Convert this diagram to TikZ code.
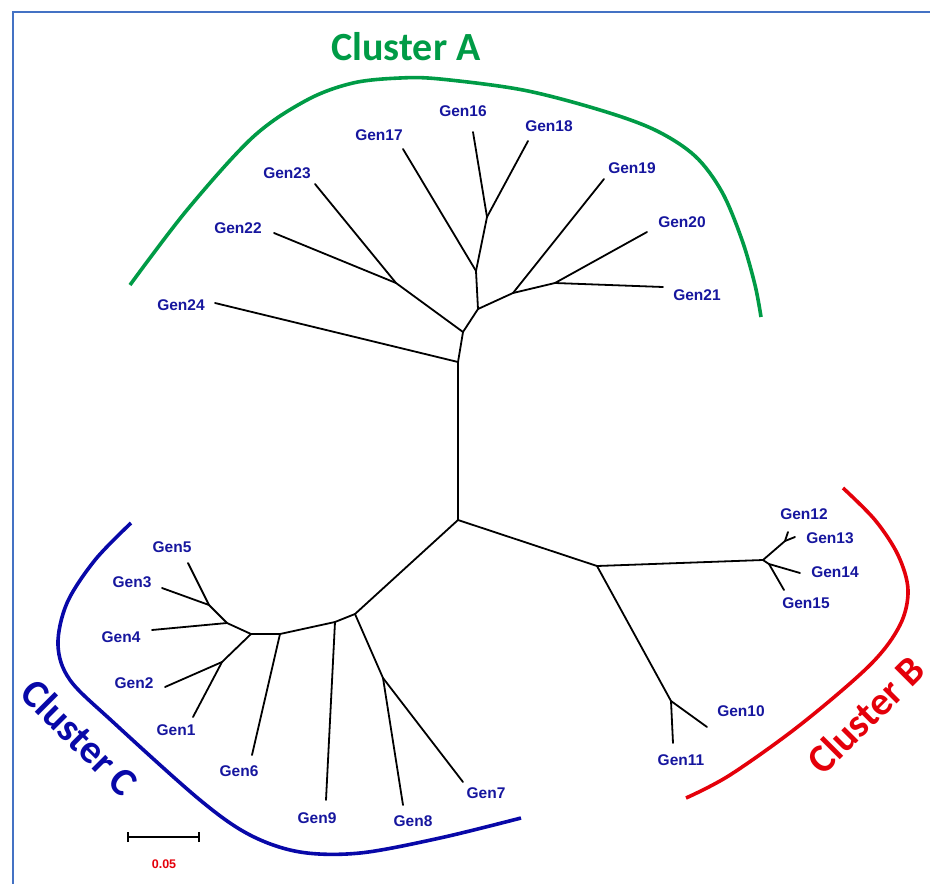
\documentclass[tikz,border=0pt]{standalone}
\usepackage{fontspec}
\setmainfont{Liberation Sans}
\newfontfamily\clfont{Carlito}
\definecolor{genblue}{RGB}{22,22,158}
\definecolor{clgreen}{RGB}{0,155,70}
\definecolor{clred}{RGB}{228,0,10}
\definecolor{clblue}{RGB}{8,8,168}
\definecolor{frameblue}{RGB}{68,114,196}
\begin{document}
\begin{tikzpicture}[x=1pt,y=-1pt,
  branch/.style={line width=1.8pt, line cap=round, line join=round, black},
  gen/.style={text=genblue, font=\bfseries\fontsize{15.5}{17}\selectfont, inner sep=0pt},
  clustertext/.style={font=\clfont\bfseries\fontsize{40}{44}\selectfont, inner sep=0pt},
  arcline/.style={line width=3.6pt, line cap=butt}]
\useasboundingbox (0,0) rectangle (930,884);
% frame
\draw[frameblue, line width=2.5pt] (13,884) -- (13,12) -- (930,12);

% ---------- internal nodes ----------
\coordinate (R) at (458,520);
\coordinate (A0) at (458,362);
\coordinate (A1) at (463,332);
\coordinate (A2) at (396,283);
\coordinate (A3) at (478,309);
\coordinate (A4) at (476,271);
\coordinate (A5) at (487,217);
\coordinate (A6) at (513,293);
\coordinate (A7) at (555,283);
\coordinate (B0) at (597,566);
\coordinate (B1) at (763,560);
\coordinate (B2) at (785,541);
\coordinate (B3) at (769,564);
\coordinate (B4) at (671,701);
\coordinate (C0) at (355,614);
\coordinate (C1) at (383,678);
\coordinate (C2) at (335,622);
\coordinate (C3) at (280,634);
\coordinate (C4) at (251,634);
\coordinate (C5) at (227,623);
\coordinate (C6) at (209,605);
\coordinate (C7) at (222,662);

% ---------- leaf ends ----------
\coordinate (e24) at (215,303);
\coordinate (e22) at (274,233);
\coordinate (e23) at (315,184);
\coordinate (e17) at (403,149);
\coordinate (e16) at (473,132);
\coordinate (e18) at (528,141);
\coordinate (e19) at (604,179);
\coordinate (e20) at (647,232);
\coordinate (e21) at (663,287);
\coordinate (e12) at (788,532);
\coordinate (e13) at (795,537);
\coordinate (e14) at (800,573);
\coordinate (e15) at (784,590);
\coordinate (e10) at (707,727);
\coordinate (e11) at (673,743);
\coordinate (e7) at (463,782);
\coordinate (e8) at (403,805);
\coordinate (e9) at (326,800);
\coordinate (e6) at (252,755);
\coordinate (e5) at (188,563);
\coordinate (e3) at (162,588);
\coordinate (e4) at (152,630);
\coordinate (e2) at (165,687);
\coordinate (e1) at (193,717);

% ---------- branches ----------
\draw[branch] (R) -- (A0) -- (A1) -- (A3) -- (A4) -- (A5) -- (e16);
\draw[branch] (A0) -- (e24);
\draw[branch] (A1) -- (A2) -- (e22);
\draw[branch] (A2) -- (e23);
\draw[branch] (A4) -- (e17);
\draw[branch] (A5) -- (e18);
\draw[branch] (A3) -- (A6) -- (A7) -- (e21);
\draw[branch] (A6) -- (e19);
\draw[branch] (A7) -- (e20);

\draw[branch] (R) -- (B0) -- (B1) -- (B2) -- (e12);
\draw[branch] (B2) -- (e13);
\draw[branch] (B1) -- (B3) -- (e14);
\draw[branch] (B3) -- (e15);
\draw[branch] (B0) -- (B4) -- (e10);
\draw[branch] (B4) -- (e11);

\draw[branch] (R) -- (C0) -- (C1) -- (e8);
\draw[branch] (C1) -- (e7);
\draw[branch] (C0) -- (C2) -- (e9);
\draw[branch] (C2) -- (C3) -- (e6);
\draw[branch] (C3) -- (C4) -- (C5) -- (C6) -- (e3);
\draw[branch] (C6) -- (e5);
\draw[branch] (C5) -- (e4);
\draw[branch] (C4) -- (C7) -- (e2);
\draw[branch] (C7) -- (e1);

% ---------- labels ----------
\node[gen] (g16) at (463,111) {Gen16};
\node[gen] (g17) at (379,135) {Gen17};
\node[gen] (g18) at (549,126) {Gen18};
\node[gen] (g19) at (632,168) {Gen19};
\node[gen] (g20) at (682,222) {Gen20};
\node[gen] (g21) at (697,295) {Gen21};
\node[gen] (g22) at (238,228) {Gen22};
\node[gen] (g23) at (287,173) {Gen23};
\node[gen] (g24) at (181,305) {Gen24};
\node[gen] (g12) at (804,514) {Gen12};
\node[gen] (g13) at (830,538) {Gen13};
\node[gen] (g14) at (835,572) {Gen14};
\node[gen] (g15) at (806,603) {Gen15};
\node[gen] (g10) at (741,711) {Gen10};
\node[gen] (g11) at (681,760) {Gen11};
\node[gen] (g5) at (172,547) {Gen5};
\node[gen] (g3) at (132,582) {Gen3};
\node[gen] (g4) at (121,637) {Gen4};
\node[gen] (g2) at (134,683) {Gen2};
\node[gen] (g1) at (176,730) {Gen1};
\node[gen] (g6) at (239,771) {Gen6};
\node[gen] (g9) at (317,818) {Gen9};
\node[gen] (g8) at (413,821) {Gen8};
\node[gen] (g7) at (486,793) {Gen7};

% ---------- cluster arcs ----------
\draw[arcline, clgreen] plot[smooth, tension=0.55] coordinates {(130,285) (187,210) (253,137) (307,100) (353,83) (400,78) (440,79) (523,90) (600,110) (655,130) (695,156) (722,192) (742,240) (755,285) (761,317)};
\draw[arcline, clred] plot[smooth, tension=0.55] coordinates {(843,488) (875,520) (898,555) (908,590) (900,625) (870,665) (800,725) (730,775) (686,798)};
\draw[arcline, clblue] plot[smooth, tension=0.55] coordinates {(131,523) (95,560) (67,603) (58,645) (70,680) (113,722) (200,800) (250,835) (300,852) (360,853) (440,838) (521,818)};

\node[clustertext, text=clgreen] (cA) at (406,47) {Cluster A};
\node[clustertext, text=clred, rotate=45] (cB) at (866,715) {Cluster B};
\node[clustertext, text=clblue, rotate=-45] (cC) at (80,737) {Cluster C};

% ---------- scale bar ----------
\coordinate (s1) at (128,837);
\coordinate (s2) at (199,837);
\draw[line width=1.8pt] (s1) -- (s2);
\draw[line width=1.8pt] ([yshift=-5pt]s1) -- ([yshift=5pt]s1);
\draw[line width=1.8pt] ([yshift=-5pt]s2) -- ([yshift=5pt]s2);
\node[text=clred, font=\bfseries\fontsize{12.5}{14}\selectfont, inner sep=0pt] (sl) at (164,864) {0.05};
\end{tikzpicture}
\end{document}
